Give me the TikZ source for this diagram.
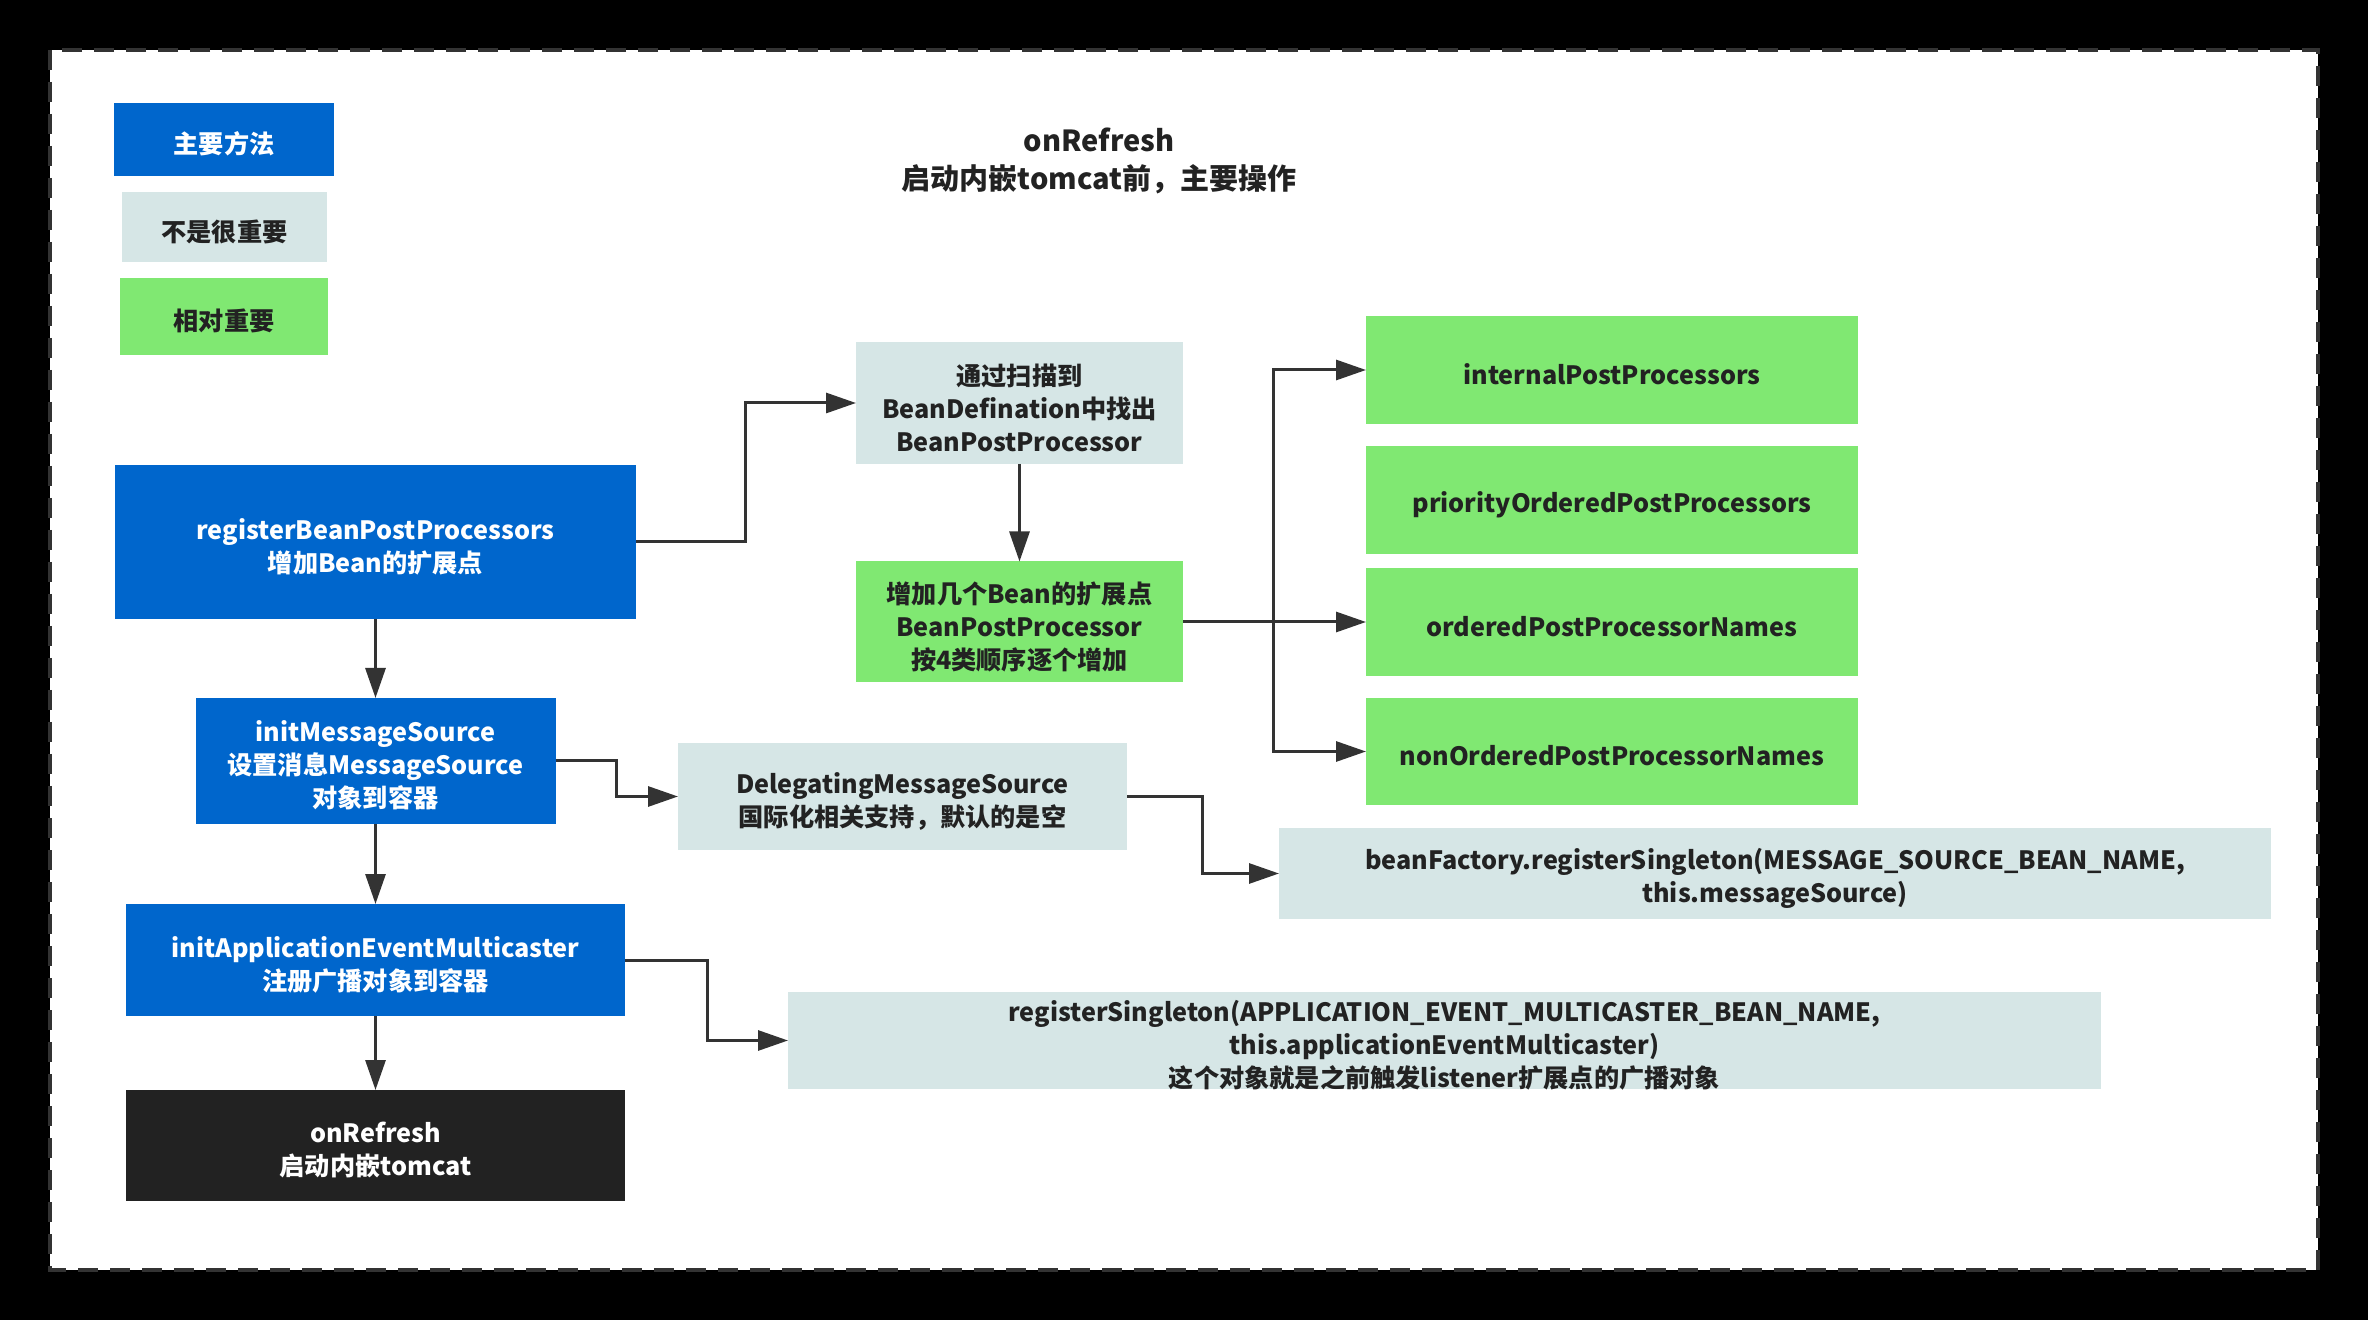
\documentclass[tikz,border=0pt]{standalone}
\usepackage{fontspec}
\setmainfont{Noto Sans CJK SC}
\usetikzlibrary{arrows.meta,calc}
\definecolor{mblue}{RGB}{0,102,204}
\definecolor{mgray}{RGB}{214,230,230}
\definecolor{mgreen}{RGB}{128,232,114}
\definecolor{mdark}{RGB}{34,34,34}
\definecolor{mline}{RGB}{51,51,51}
\definecolor{mtext}{RGB}{34,34,34}
% box node (named #4) plus its text node (named #4t), text set 2pt lower
\newcommand\mybox[6]{%
  \node[#1, sz={#2}{#3}] (#4) at #5 {};
  \node[txt, #1text] (#4t) at ($(#4.center)+(0,4.5)$) {#6};}
\begin{document}
\begin{tikzpicture}[x=0.5pt,y=-0.5pt,
 sz/.style 2 args={minimum width=#1*0.5pt, minimum height=#2*0.5pt},
 base/.style={inner sep=0pt, outer sep=0pt},
 txt/.style={inner sep=0pt, outer sep=0pt, align=center, font=\fontsize{12.6}{16.5}\selectfont\bfseries},
 bluebox/.style={base, fill=mblue},
 graybox/.style={base, fill=mgray},
 greenbox/.style={base, fill=mgreen},
 darkbox/.style={base, fill=mdark},
 blueboxtext/.style={text=white},
 grayboxtext/.style={text=mtext},
 greenboxtext/.style={text=mtext},
 darkboxtext/.style={text=white},
 arr/.style={draw=mline, line width=1.5pt, -{Triangle[length=15pt,width=10pt]}}]
\fill[black] (0,0) rectangle (2368,1320);
\fill[white] (50,50) rectangle (2318,1270);
\draw[mline, line width=2pt, dash pattern=on 10pt off 6pt] (50,50) rectangle (2318,1270);
\useasboundingbox (0,0) rectangle (2368,1320);

% legend
\mybox{bluebox}{220}{73}{leg1}{(224,139.5)}{主要方法}
\mybox{graybox}{205}{70}{leg2}{(224.5,227)}{不是很重要}
\mybox{greenbox}{208}{77}{leg3}{(224,316.5)}{相对重要}

% title
\node[inner sep=0pt, align=center, text=mtext, font=\fontsize{14.5}{19}\selectfont\bfseries] (title) at (1099,161) {onRefresh\\启动内嵌tomcat前，主要操作};

% main column
\mybox{bluebox}{521}{154}{reg}{(375.5,542)}{registerBeanPostProcessors\\增加Bean的扩展点}
\mybox{bluebox}{360}{126}{ims}{(375.5,761)}{initMessageSource\\设置消息MessageSource\\对象到容器}
\mybox{bluebox}{499}{112}{aem}{(375.5,960)}{initApplicationEventMulticaster\\注册广播对象到容器}
\mybox{darkbox}{499}{111}{onr}{(375.5,1145.5)}{onRefresh\\启动内嵌tomcat}

% middle
\mybox{graybox}{327}{122}{scan}{(1019.5,403)}{通过扫描到\\BeanDefination中找出\\BeanPostProcessor}
\mybox{greenbox}{327}{121}{add}{(1019.5,622)}{增加几个Bean的扩展点\\BeanPostProcessor\\按4类顺序逐个增加}

% right column
\mybox{greenbox}{492}{108}{internal}{(1612,370)}{internalPostProcessors}
\mybox{greenbox}{492}{108}{priority}{(1612,500)}{priorityOrderedPostProcessors}
\mybox{greenbox}{492}{108}{ordered}{(1612,622)}{orderedPostProcessorNames}
\mybox{greenbox}{492}{107}{nonord}{(1612,751.5)}{nonOrderedPostProcessorNames}

% message source
\mybox{graybox}{449}{107}{deleg}{(902.5,796.5)}{DelegatingMessageSource\\国际化相关支持，默认的是空}
\mybox{graybox}{992}{91}{bf}{(1775,873.5)}{beanFactory.registerSingleton(MESSAGE\_SOURCE\_BEAN\_NAME,\\this.messageSource)}
\mybox{graybox}{1313}{97}{rs}{(1444.5,1040.5)}{registerSingleton(APPLICATION\_EVENT\_MULTICASTER\_BEAN\_NAME,\\this.applicationEventMulticaster)\\这个对象就是之前触发listener扩展点的广播对象}

% connectors
\draw[arr] (reg.south) -- (reg.south |- ims.north);
\draw[arr] (ims.south) -- (ims.south |- aem.north);
\draw[arr] (aem.south) -- (aem.south |- onr.north);
\draw[arr] (reg.east) -- ++(109,0) |- (scan.west);
\draw[arr] (scan.south) -- (add.north);
\draw[arr] (add.east) -- (ordered.west);
\coordinate (br) at ($(add.east)+(90,0)$);
\draw[arr] (br) |- (internal.west);
\draw[arr] (br) |- (nonord.west);
\draw[arr] (ims.east) -- ++(61,0) |- (deleg.west);
\draw[arr] (deleg.east) -- ++(75,0) |- (bf.west);
\draw[arr] (aem.east) -- ++(82,0) |- (rs.west);
\end{tikzpicture}
\end{document}
